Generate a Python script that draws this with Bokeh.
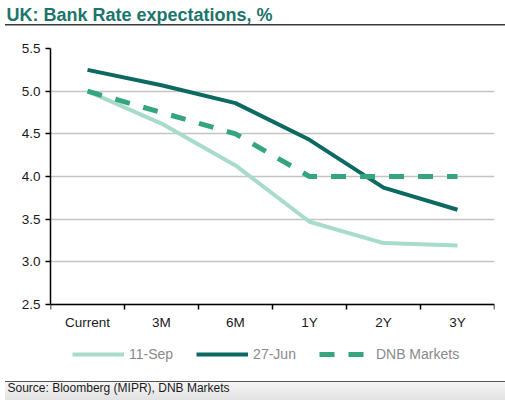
from bokeh.plotting import figure
from bokeh.models import (Legend, LegendItem, FixedTicker, NumeralTickFormatter,
                          Range1d, Title)
from bokeh.embed import file_html
from bokeh.resources import INLINE

categories = ["Current", "3M", "6M", "1Y", "2Y", "3Y"]
sep11 = [5.00, 4.62, 4.13, 3.47, 3.22, 3.19]
jun27 = [5.25, 5.07, 4.86, 4.43, 3.87, 3.61]
dnb = [5.00, 4.75, 4.50, 4.00, 4.00, 4.00]
y_ticks = [2.5, 3.0, 3.5, 4.0, 4.5, 5.0, 5.5]

title_text = "UK: Bank Rate expectations, %"
source_text = "Source: Bloomberg (MIPR), DNB Markets"

FONT = "Liberation Sans"
xs = [i + 0.5 for i in range(len(categories))]

# layout (pixels): frame top 48, axis at 304, frame bottom 376
Y_MIN, Y_MAX = y_ticks[0], y_ticks[-1]
px_per_unit = (304 - 48) / (Y_MAX - Y_MIN)
y_start = Y_MIN - (376 - 304) / px_per_unit

decor = ("linear-gradient(#3a3a3a,#3a3a3a) 5px 24px / 500px 1.5px no-repeat, "
         "linear-gradient(#555,#555) 5px 381px / 500px 1px no-repeat, "
         "linear-gradient(#f6f6f6,#e2e2e2) 5px 382px / 500px 18px no-repeat, "
         "white")

p = figure(width=505, height=400, output_backend="svg", toolbar_location=None,
           x_range=Range1d(0, len(categories)), y_range=Range1d(y_start, Y_MAX),
           min_border_left=50, min_border_right=11, min_border_top=48,
           min_border_bottom=24)
p.styles = {"background": decor}
p.outline_line_color = None
p.background_fill_color = "white"
p.border_fill_color = None

# spacer between the frame and the title
p.add_layout(Title(text=" ", text_font_size="1px", standoff=20), "above")

p.title.text = title_text
p.title.align = "left"
p.title.offset = -44
p.title.standoff = 2
p.title.text_font = FONT
p.title.text_font_size = "18px"
p.title.text_font_style = "bold"
p.title.text_color = "#1d746c"

p.xaxis.fixed_location = Y_MIN
p.xaxis.ticker = FixedTicker(ticks=xs, minor_ticks=list(range(len(categories) + 1)))
p.xaxis.major_label_overrides = {x: c for x, c in zip(xs, categories)}
p.xaxis.major_tick_out = 0
p.xaxis.major_tick_in = 0
p.xaxis.minor_tick_out = 5
p.xaxis.minor_tick_in = 0
p.xaxis.minor_tick_line_color = "black"
p.xaxis.minor_tick_line_width = 1.5
p.xaxis.axis_line_color = "black"
p.xaxis.axis_line_width = 1.5
p.xaxis.major_label_standoff = 5
p.xaxis.major_label_text_font = FONT
p.xaxis.major_label_text_font_size = "13.5px"
p.xaxis.major_label_text_color = "#1a1a1a"

p.yaxis.bounds = (Y_MIN, Y_MAX)
p.yaxis.ticker = FixedTicker(ticks=y_ticks)
p.yaxis.formatter = NumeralTickFormatter(format="0.0")
p.yaxis.major_tick_out = 5
p.yaxis.major_tick_in = 0
p.yaxis.major_tick_line_color = "black"
p.yaxis.major_tick_line_width = 1.5
p.yaxis.minor_tick_line_color = None
p.yaxis.axis_line_color = "black"
p.yaxis.axis_line_width = 1.5
p.yaxis.major_label_standoff = 5
p.yaxis.major_label_text_font = FONT
p.yaxis.major_label_text_font_size = "13.5px"
p.yaxis.major_label_text_color = "#1a1a1a"

p.xgrid.visible = False
p.ygrid.ticker = FixedTicker(ticks=y_ticks)
p.ygrid.grid_line_color = "#c4c4c4"
p.ygrid.grid_line_width = 1.5

c_sep = "#a8dcca"
c_jun = "#0c6a62"
c_dnb = "#34a57f"

r1 = p.line(xs, sep11, line_color=c_sep, line_width=4)
r2 = p.line(xs, jun27, line_color=c_jun, line_width=4)
r3 = p.line(xs, dnb, line_color=c_dnb, line_width=5, line_dash="15 14")

legend = Legend(items=[LegendItem(label="11-Sep", renderers=[r1]),
                       LegendItem(label="27-Jun", renderers=[r2]),
                       LegendItem(label="DNB Markets", renderers=[r3])],
                orientation="horizontal", location=(22, 14),
                padding=0, margin=0, spacing=23, label_standoff=5,
                glyph_width=52, glyph_height=16, label_height=16,
                label_text_font=FONT, label_text_font_size="14px",
                label_text_color="#8a8a8a", border_line_color=None,
                background_fill_alpha=0)
p.add_layout(legend, "center")

src = Title(text=source_text, align="left", offset=-43, standoff=4,
            text_font=FONT, text_font_size="12px", text_font_style="normal",
            text_color="#1a1a1a")
p.add_layout(src, "below")

open("out.html", "w").write(file_html(p, INLINE))
